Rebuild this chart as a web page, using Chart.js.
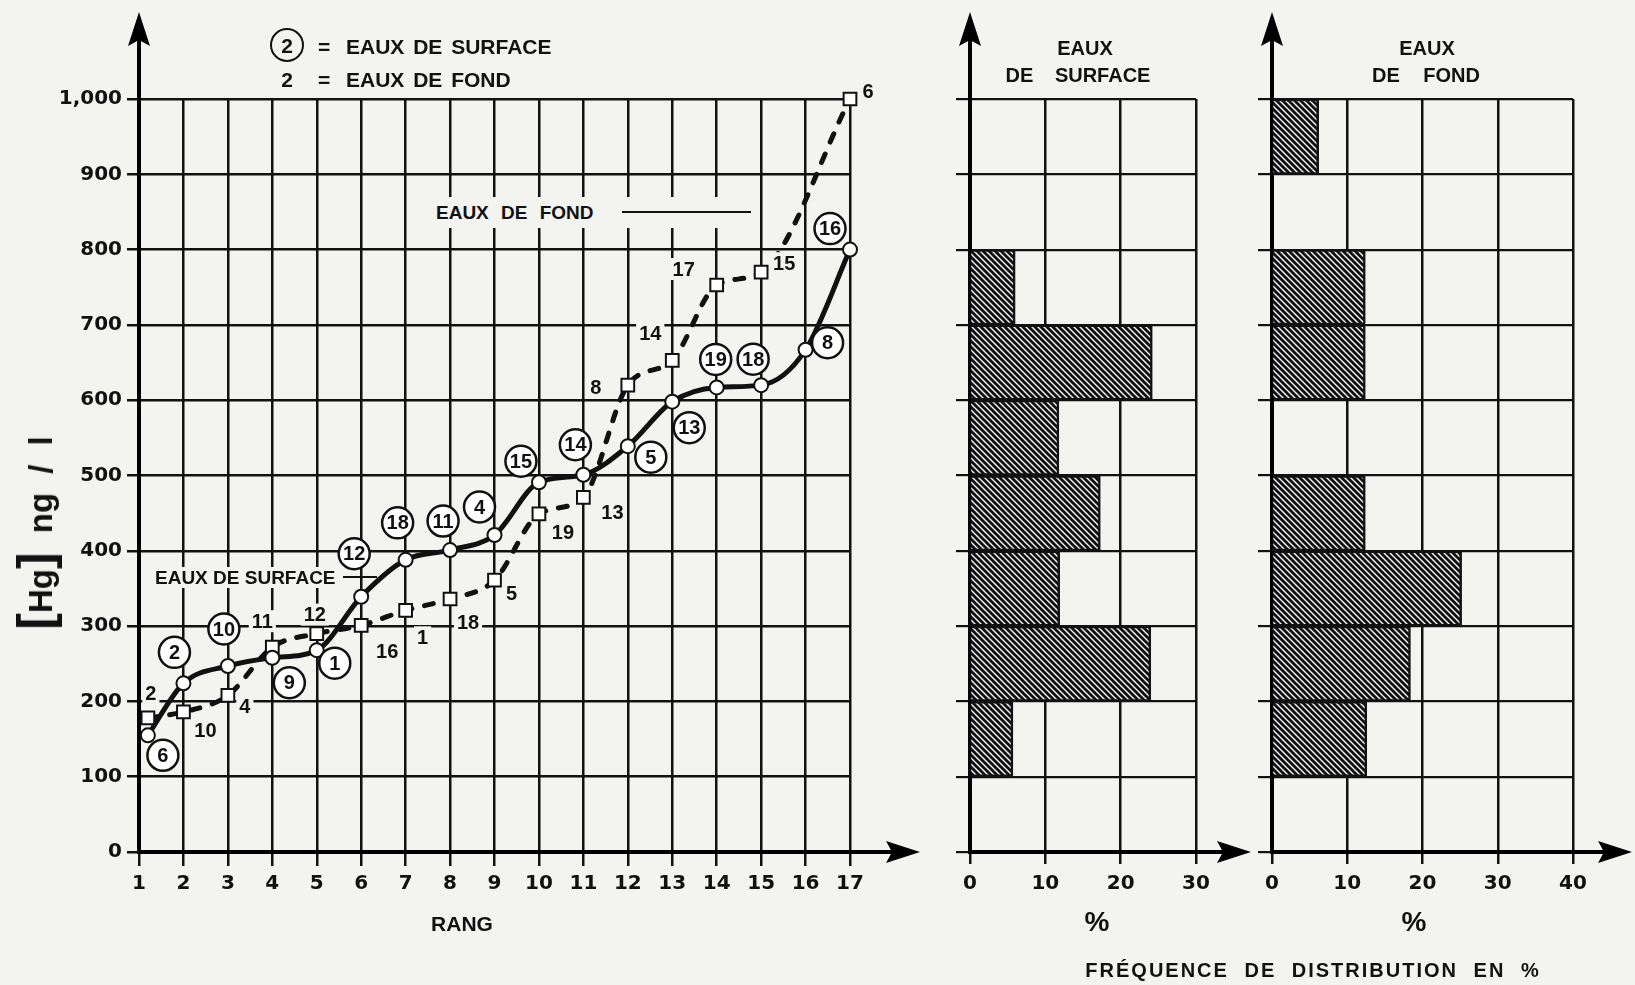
<!DOCTYPE html>
<html lang="fr">
<head>
<meta charset="utf-8">
<title>[Hg] ng/l - eaux de surface et eaux de fond</title>
<script src="https://cdn.jsdelivr.net/npm/chart.js@4.4.1/dist/chart.umd.min.js"></script>
<style>
  html, body { margin: 0; padding: 0; background: #f3f3f0; }
  #page { position: relative; width: 1635px; height: 985px; overflow: hidden; }
  #page canvas { position: absolute; left: 0; top: 0; }
  .txt { position: absolute; font-family: "Liberation Sans", Arial, sans-serif; font-weight: bold; color: #111;
         white-space: nowrap; line-height: 1; transform: translate(-50%, -50%); z-index: 5; }
  .l { transform: translate(0, -50%); }
  .ring { width: 34px; height: 34px; border: 2.5px solid #111; border-radius: 50%; box-sizing: border-box;
          display: flex; align-items: center; justify-content: center; font-size: 21px; }
  .gap { position: absolute; background: #f3f3f0; z-index: 4; }
  .rule { position: absolute; height: 2px; background: #111; z-index: 5; }
</style>
</head>
<body>
<div id="page">
  <canvas id="rangChart" width="1635" height="985"></canvas>
  <canvas id="surfChart" width="1635" height="985"></canvas>
  <canvas id="fondChart" width="1635" height="985"></canvas>

  <!-- legende -->
  <div class="txt ring" style="left:287px;top:45px;">2</div>
  <div class="txt l" style="left:318px;top:46px;font-size:21px;">=</div>
  <div class="txt l" style="left:346px;top:46px;font-size:21px;word-spacing:3px;">EAUX DE SURFACE</div>
  <div class="txt" style="left:287px;top:79px;font-size:21px;">2</div>
  <div class="txt l" style="left:318px;top:79px;font-size:21px;">=</div>
  <div class="txt l" style="left:346px;top:79px;font-size:21px;word-spacing:3px;">EAUX DE FOND</div>

  <!-- annotations dans le graphique -->
  <div class="gap" style="left:428px;top:197px;width:326px;height:31px;"></div>
  <div class="txt l" style="left:436px;top:212px;font-size:19px;word-spacing:7px;">EAUX DE FOND</div>
  <div class="rule" style="left:622px;top:211px;width:129px;"></div>
  <div class="gap" style="left:150px;top:567px;width:194px;height:21px;"></div>
  <div class="txt l" style="left:155px;top:577px;font-size:19px;">EAUX DE SURFACE</div>
  <div class="rule" style="left:343px;top:576px;width:34px;"></div>

  <!-- titres des histogrammes -->
  <div class="txt" style="left:1085px;top:48px;font-size:20px;">EAUX</div>
  <div class="txt" style="left:1078px;top:75px;font-size:20px;word-spacing:16px;">DE SURFACE</div>
  <div class="txt" style="left:1427px;top:48px;font-size:20px;">EAUX</div>
  <div class="txt" style="left:1426px;top:75px;font-size:20px;word-spacing:18px;">DE FOND</div>

  <!-- titres des axes -->
  <div class="txt" style="left:35px;top:533px;font-size:33px;word-spacing:10px;transform:translate(-50%,-50%) rotate(-90deg);"><span style="font-size:50px;">[</span>Hg<span style="font-size:50px;">]</span> ng / l</div>
  <div class="txt" style="left:462px;top:923px;font-size:21px;">RANG</div>
  <div class="txt" style="left:1097px;top:922px;font-size:28px;">%</div>
  <div class="txt" style="left:1414px;top:922px;font-size:28px;">%</div>
  <div class="txt" style="left:1313px;top:970px;font-size:20px;letter-spacing:2px;word-spacing:8px;">FRÉQUENCE DE DISTRIBUTION EN %</div>
</div>

<script>
const BG = '#f3f3f0';
const INK = '#111';

// eaux de surface (cercles) : rang, [Hg] ng/l, numero d'echantillon
const rangSurface = [1.2, 2, 3, 4, 5, 6, 7, 8, 9, 10, 11, 12, 13, 14, 15, 16, 17];
const hgSurface = [155, 224, 247, 258, 268, 339, 388, 401, 421, 491, 501, 539, 598, 617, 620, 667, 800];
const idSurface = ['6', '2', '10', '9', '1', '12', '18', '11', '4', '15', '14', '5', '13', '19', '18', '8', '16'];

// eaux de fond (carres)
const rangFond = [1.2, 2, 3, 4, 5, 6, 7, 8, 9, 10, 11, 12, 13, 14, 15, 17];
const hgFond = [178, 186, 208, 272, 290, 301, 321, 336, 361, 449, 471, 620, 653, 753, 770, 1000];
const idFond = ['2', '10', '4', '11', '12', '16', '1', '18', '5', '19', '13', '8', '14', '17', '15', '6'];

// classes de concentration (du haut vers le bas) et frequences en %
const classes = ['900-1000', '800-900', '700-800', '600-700', '500-600', '400-500', '300-400', '200-300', '100-200', '0-100'];
const freqSurface = [0, 0, 6.0, 24.2, 11.8, 17.3, 11.9, 24.0, 5.7, 0];
const freqFond = [6.2, 0, 12.4, 12.4, 0, 12.4, 25.2, 18.4, 12.6, 0];

const yTickLabels = ['0', '100', '200', '300', '400', '500', '600', '700', '800', '900', '1,000'];

// placement des numeros autour des points (px)
const offSurface = [[15, 20], [-9, -31], [-4, -37], [17, 25], [18, 13], [-7, -43], [-8, -37], [-7, -29], [-15, -28],
                    [-18, -21], [-8, -30], [23, 11], [17, 26], [-1, -28], [-8, -26], [22, -7], [-20, -21]];
const offFond = [[3, -24], [22, 19], [17, 11], [-10, -26], [-2, -19], [26, 26], [17, 27], [18, 23], [17, 13],
                 [24, 19], [29, 15], [-32, 2], [-22, -27], [-33, -16], [23, -9], [18, -8]];

const tickFont = { family: '"DejaVu Sans", sans-serif', weight: 'bold', size: 20 };

function pts(xs, ys) {
    return xs.map(function(x, i) { return { x: x, y: ys[i] }; });
}

// hachures des barres
function hatch() {
    var c = document.createElement('canvas');
    c.width = 6; c.height = 6;
    var g = c.getContext('2d');
    g.fillStyle = '#fff';
    g.fillRect(0, 0, 6, 6);
    g.strokeStyle = INK;
    g.lineWidth = 2.9;
    g.beginPath();
    g.moveTo(-3, -3); g.lineTo(9, 9);
    g.moveTo(-6, 0); g.lineTo(6, 12);
    g.moveTo(0, -6); g.lineTo(12, 6);
    g.stroke();
    return g.createPattern(c, 'repeat');
}

// axes avec fleches
const arrows = {
    id: 'arrows',
    afterDraw(chart, args, opts) {
        const ctx = chart.ctx, a = chart.chartArea;
        ctx.save();
        ctx.strokeStyle = '#000';
        ctx.fillStyle = '#000';
        ctx.lineWidth = 4;
        ctx.beginPath();
        ctx.moveTo(a.left, a.top);
        ctx.lineTo(a.left, opts.yTip + 25);
        ctx.moveTo(a.right, a.bottom);
        ctx.lineTo(opts.xTip - 25, a.bottom);
        ctx.stroke();
        ctx.beginPath();
        ctx.moveTo(a.left, opts.yTip);
        ctx.lineTo(a.left - 11, opts.yTip + 34);
        ctx.lineTo(a.left, opts.yTip + 28);
        ctx.lineTo(a.left + 11, opts.yTip + 34);
        ctx.closePath();
        ctx.fill();
        ctx.beginPath();
        ctx.moveTo(opts.xTip, a.bottom);
        ctx.lineTo(opts.xTip - 34, a.bottom - 11);
        ctx.lineTo(opts.xTip - 28, a.bottom);
        ctx.lineTo(opts.xTip - 34, a.bottom + 11);
        ctx.closePath();
        ctx.fill();
        ctx.restore();
    }
};

// numeros des echantillons
const tagSets = [
    { ids: idSurface, off: offSurface, circled: true },
    { ids: idFond, off: offFond, circled: false }
];
const pointTags = {
    id: 'pointTags',
    afterDatasetsDraw(chart) {
        const ctx = chart.ctx;
        tagSets.forEach(function(set, di) {
            const meta = chart.getDatasetMeta(di);
            meta.data.forEach(function(pt, i) {
                const x = pt.x + set.off[i][0], y = pt.y + set.off[i][1];
                ctx.save();
                ctx.font = 'bold 20px "Liberation Sans", Arial, sans-serif';
                ctx.textAlign = 'center';
                ctx.textBaseline = 'middle';
                if (set.circled) {
                    ctx.beginPath();
                    ctx.arc(x, y, 15.5, 0, Math.PI * 2);
                    ctx.fillStyle = '#fff';
                    ctx.fill();
                    ctx.lineWidth = 2.5;
                    ctx.strokeStyle = INK;
                    ctx.stroke();
                } else {
                    const w = ctx.measureText(set.ids[i]).width;
                    ctx.fillStyle = BG;
                    ctx.fillRect(x - w / 2 - 3, y - 11, w + 6, 22);
                }
                ctx.fillStyle = INK;
                ctx.fillText(set.ids[i], x, y + 1);
                ctx.restore();
            });
        });
    }
};

document.addEventListener("DOMContentLoaded", function() {
    // graphique principal : [Hg] en fonction du rang
    new Chart(document.getElementById('rangChart'), {
        type: 'line',
        data: {
            datasets: [{
                label: 'Eaux de surface',
                data: pts(rangSurface, hgSurface),
                borderColor: INK,
                borderWidth: 5,
                cubicInterpolationMode: 'monotone',
                pointStyle: 'circle',
                pointRadius: 7,
                pointBackgroundColor: '#fff',
                pointBorderColor: INK,
                pointBorderWidth: 2,
                clip: false
            }, {
                label: 'Eaux de fond',
                data: pts(rangFond, hgFond),
                borderColor: INK,
                borderWidth: 5,
                borderDash: [9, 13],
                borderCapStyle: 'round',
                cubicInterpolationMode: 'monotone',
                pointStyle: 'rect',
                pointRadius: 9,
                pointBackgroundColor: '#fff',
                pointBorderColor: INK,
                pointBorderWidth: 2,
                clip: false
            }]
        },
        options: {
            responsive: false,
            animation: false,
            layout: { padding: { left: 0, top: 99, right: 785, bottom: 0 } },
            plugins: {
                legend: { display: false },
                tooltip: { enabled: false },
                arrows: { xTip: 920, yTip: 12 }
            },
            scales: {
                x: {
                    type: 'linear', min: 1, max: 17,
                    ticks: { stepSize: 1, autoSkip: false, maxRotation: 0, font: tickFont, color: INK, padding: 6 },
                    grid: { color: INK, lineWidth: 2.5, tickLength: 14 },
                    border: { color: '#000', width: 4 },
                    afterFit: function(s) { s.height = 133; }
                },
                y: {
                    type: 'linear', min: 0, max: 1000,
                    ticks: { stepSize: 100, font: tickFont, color: INK, padding: 5,
                             callback: function(v) { return yTickLabels[v / 100]; } },
                    grid: { color: INK, lineWidth: 2.5, tickLength: 12 },
                    border: { color: '#000', width: 4 },
                    afterFit: function(s) { s.width = 139; }
                }
            }
        },
        plugins: [arrows, pointTags]
    });

    // histogrammes de frequence
    function histo(id, freq, xMax, left, right, xTip) {
        return new Chart(document.getElementById(id), {
            type: 'bar',
            data: {
                labels: classes,
                datasets: [{
                    data: freq,
                    backgroundColor: hatch(),
                    borderColor: INK,
                    borderWidth: 2.5,
                    barPercentage: 1,
                    categoryPercentage: 1
                }]
            },
            options: {
                indexAxis: 'y',
                responsive: false,
                animation: false,
                layout: { padding: { left: left - 14, top: 99, right: 1635 - right, bottom: 0 } },
                plugins: {
                    legend: { display: false },
                    tooltip: { enabled: false },
                    arrows: { xTip: xTip, yTip: 12 }
                },
                scales: {
                    x: {
                        type: 'linear', min: 0, max: xMax,
                        ticks: { stepSize: 10, font: tickFont, color: INK, padding: 8 },
                        grid: { color: INK, lineWidth: 2.5, tickLength: 12 },
                        border: { color: '#000', width: 4 },
                        afterFit: function(s) { s.height = 133; }
                    },
                    y: {
                        type: 'category',
                        ticks: { display: false },
                        grid: { color: INK, lineWidth: 2.2, tickLength: 14, offset: true },
                        border: { color: '#000', width: 4 },
                        afterFit: function(s) { s.width = 14; }
                    }
                }
            },
            plugins: [arrows]
        });
    }

    histo('surfChart', freqSurface, 30, 970, 1196, 1251);
    histo('fondChart', freqFond, 40, 1272, 1573, 1632);
});
</script>
</body>
</html>
